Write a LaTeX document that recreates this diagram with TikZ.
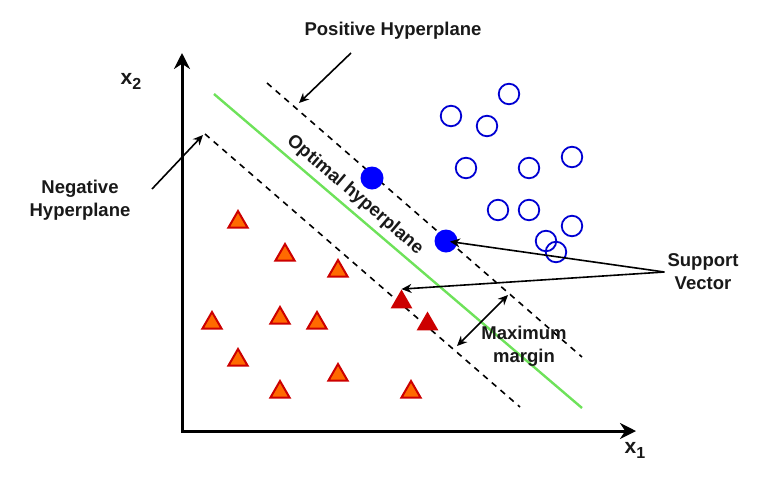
\documentclass[tikz,border=0pt]{standalone}
\usepackage{fontspec}
\setmainfont{Liberation Sans}
\usetikzlibrary{arrows.meta,shapes.geometric}
\definecolor{svmgreen}{RGB}{110,226,90}
\definecolor{svmred}{RGB}{204,0,0}
\definecolor{svmorange}{RGB}{255,106,0}
\definecolor{svmblue}{RGB}{0,0,210}
\definecolor{svmfill}{RGB}{0,0,255}
\begin{document}
\begin{tikzpicture}[x=1pt,y=-1pt,
  lbl/.style={font=\fontsize{18.5}{23}\selectfont\bfseries, text=black!90, align=center, inner sep=0pt},
  axlbl/.style={font=\fontsize{21}{24}\selectfont\bfseries, text=black!90, inner sep=0pt},
  axis/.style={line width=3pt, {Stealth[length=16pt,width=16pt]}-{Stealth[length=16pt,width=16pt]}},
  hplane/.style={line width=1.6pt, dash pattern=on 6pt off 5.5pt},
  optline/.style={line width=2.4pt, svmgreen},
  ptr/.style={line width=1.6pt, -{Stealth[length=10pt,width=9pt]}},
  dptr/.style={line width=1.6pt, {Stealth[length=10pt,width=9pt]}-{Stealth[length=10pt,width=9pt]}},
  tri/.style={regular polygon, regular polygon sides=3, minimum size=22pt, inner sep=0pt, draw=svmred, fill=svmorange, line width=2pt},
  stri/.style={regular polygon, regular polygon sides=3, minimum size=25pt, inner sep=0pt, fill=svmred},
  opencirc/.style={circle, minimum size=20.5pt, inner sep=0pt, draw=svmblue, line width=1.8pt},
  fillcirc/.style={circle, minimum size=23pt, inner sep=0pt, fill=svmfill},
]
\useasboundingbox (0,0) rectangle (773,480);

% axes
\coordinate (ytip) at (182,53);
\coordinate (O) at (182,431);
\coordinate (xtip) at (636,431);
\draw[axis] (ytip) -- (O) -- (xtip);
\node[axlbl] (x2) at (131,81) {x\raisebox{-5pt}{\fontsize{16}{18}\selectfont 2}};
\node[axlbl] (x1) at (635,450) {x\raisebox{-5pt}{\fontsize{16}{18}\selectfont 1}};

% hyperplanes
\coordinate (ps) at (267,83);
\coordinate (pe) at (582,357);
\coordinate (ns) at (205,134);
\coordinate (ne) at (520,407);
\coordinate (gs) at (214,94);
\coordinate (ge) at (582,408);
\draw[hplane] (ps) -- (pe);
\draw[hplane] (ns) -- (ne);
\draw[optline] (gs) -- (ge);

% open circles
\foreach \i/\x/\y in {1/509/94, 2/451/116, 3/487/126, 4/466/168, 5/529/168, 6/572/157,
  7/498/210, 8/529/210, 9/572/226, 10/546/241, 11/556/252}
  \node[opencirc] (c\i) at (\x,\y) {};

% support vector circles
\node[fillcirc] (svc1) at (372,178) {};
\node[fillcirc] (svc2) at (446,241) {};

% triangles
\foreach \i/\x/\y in {1/238/222, 2/285/255, 3/338/271, 4/212/323, 5/280/318, 6/317/323,
  7/238/360, 8/338/375, 9/280/392, 10/411/392}
  \node[tri] (t\i) at (\x,\y) {};

% support vector triangles
\node[stri] (svt1) at (401.5,302) {};
\node[stri] (svt2) at (427.5,324) {};

% labels
\node[lbl, rotate=-40.5] (opt) at (355,195) {Optimal hyperplane};
\node[lbl] (poslbl) at (393,31) {Positive Hyperplane};
\node[lbl] (neglbl) at (80,200) {Negative\\Hyperplane};
\node[lbl, inner sep=3pt] (svlbl) at (703,272) {Support\\Vector};
\node[lbl] (mmlbl) at (524,346) {Maximum\\margin};

% pointers
\coordinate (posfrom) at (351,53);
\coordinate (posto) at (299,103);
\draw[ptr] (posfrom) -- (posto);
\coordinate (negfrom) at (152,189);
\coordinate (negto) at (203,135);
\draw[ptr] (negfrom) -- (negto);
\draw[ptr, shorten >=4pt] (svlbl.west) -- (svc2.center);
\draw[ptr] (svlbl.west) -- (svt1.north);
\coordinate (mm1) at (508,295);
\coordinate (mm2) at (457,346);
\draw[dptr] (mm1) -- (mm2);
\end{tikzpicture}
\end{document}
